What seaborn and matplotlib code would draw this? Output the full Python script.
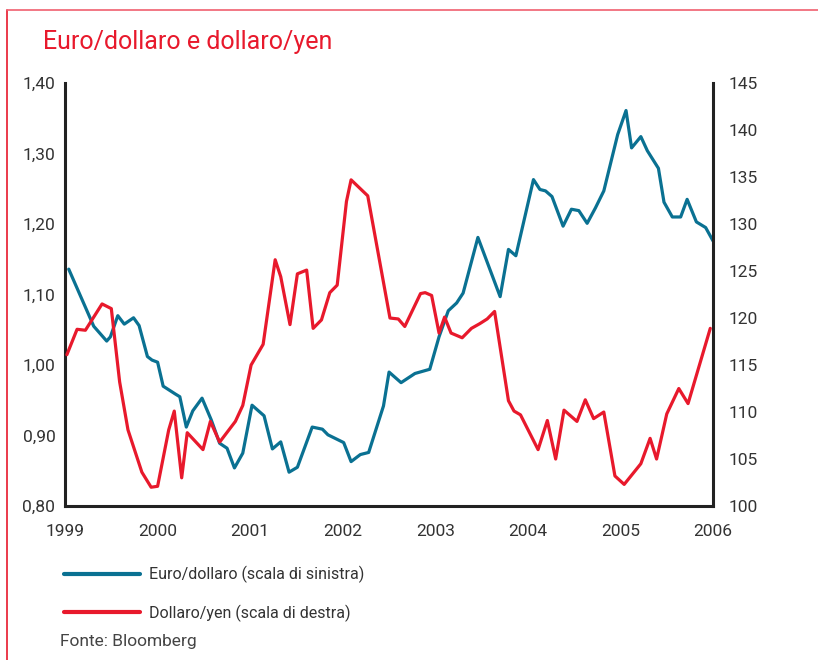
import pandas as pd
import seaborn as sns
import matplotlib.pyplot as plt
from matplotlib.lines import Line2D
from matplotlib.ticker import FuncFormatter

# euro/dollar (decimal year, value on left scale)
eur_year = [1999.04, 1999.31, 1999.45, 1999.49, 1999.57, 1999.64, 1999.74, 1999.80,
            1999.89, 1999.94, 2000.00, 2000.06, 2000.19, 2000.24, 2000.31, 2000.38,
            2000.48, 2000.58, 2000.67, 2000.75, 2000.83, 2000.92, 2001.02, 2001.15,
            2001.24, 2001.33, 2001.42, 2001.51, 2001.67, 2001.78, 2001.84, 2002.01,
            2002.09, 2002.19, 2002.28, 2002.44, 2002.50, 2002.63, 2002.78, 2002.94,
            2003.04, 2003.14, 2003.23, 2003.30, 2003.46, 2003.70, 2003.79, 2003.87,
            2004.06, 2004.13, 2004.19, 2004.26, 2004.38, 2004.47, 2004.55, 2004.64,
            2004.73, 2004.82, 2004.97, 2005.06, 2005.12, 2005.22, 2005.29, 2005.41,
            2005.47, 2005.56, 2005.65, 2005.72, 2005.82, 2005.92, 2006.00]
eur_usd = [1.136, 1.055, 1.034, 1.040, 1.070, 1.058, 1.067, 1.056,
           1.012, 1.007, 1.004, 0.970, 0.959, 0.955, 0.912, 0.935,
           0.953, 0.922, 0.889, 0.882, 0.854, 0.875, 0.943, 0.928,
           0.881, 0.891, 0.848, 0.855, 0.912, 0.909, 0.901, 0.890,
           0.863, 0.873, 0.876, 0.942, 0.990, 0.975, 0.988, 0.994,
           1.040, 1.077, 1.088, 1.102, 1.181, 1.097, 1.164, 1.155,
           1.263, 1.249, 1.247, 1.239, 1.197, 1.221, 1.219, 1.201,
           1.223, 1.247, 1.327, 1.361, 1.308, 1.324, 1.304, 1.279,
           1.231, 1.210, 1.210, 1.235, 1.203, 1.195, 1.176]

# dollar/yen (right scale)
jpy_year = [1999.02, 1999.13, 1999.22, 1999.40, 1999.50, 1999.59, 1999.68, 1999.83,
            1999.93, 2000.00, 2000.12, 2000.18, 2000.26, 2000.32, 2000.49, 2000.57,
            2000.67, 2000.84, 2000.92, 2001.01, 2001.14, 2001.27, 2001.33, 2001.43,
            2001.51, 2001.61, 2001.68, 2001.77, 2001.86, 2001.94, 2002.04, 2002.09,
            2002.27, 2002.51, 2002.60, 2002.67, 2002.84, 2002.89, 2002.96, 2003.04,
            2003.10, 2003.17, 2003.29, 2003.39, 2003.48, 2003.56, 2003.64, 2003.79,
            2003.85, 2003.92, 2004.11, 2004.21, 2004.30, 2004.39, 2004.53, 2004.62,
            2004.71, 2004.82, 2004.94, 2005.04, 2005.22, 2005.32, 2005.39, 2005.50,
            2005.63, 2005.73, 2005.97]
usd_jpy = [116.1, 118.8, 118.7, 121.5, 121.0, 113.2, 108.1, 103.6,
           102.0, 102.1, 108.1, 110.1, 103.0, 107.8, 106.0, 109.0,
           106.8, 109.0, 110.7, 115.0, 117.2, 126.2, 124.4, 119.3,
           124.7, 125.1, 118.9, 119.8, 122.7, 123.5, 132.4, 134.7,
           133.0, 120.0, 119.9, 119.1, 122.6, 122.7, 122.4, 118.4,
           120.1, 118.4, 117.9, 118.9, 119.4, 119.9, 120.7, 111.2,
           110.1, 109.7, 106.0, 109.1, 105.0, 110.2, 109.0, 111.3,
           109.3, 110.0, 103.2, 102.3, 104.5, 107.2, 105.0, 109.8,
           112.5, 110.9, 118.9]

years = [1999, 2000, 2001, 2002, 2003, 2004, 2005, 2006]
left_ticks = [0.80, 0.90, 1.00, 1.10, 1.20, 1.30, 1.40]
right_ticks = [100, 105, 110, 115, 120, 125, 130, 135, 140, 145]

labels = ["Euro/dollaro (scala di sinistra)", "Dollaro/yen (scala di destra)"]
blue = "#0a7192"
red = "#e8192c"
txt = "#333333"

sns.set_style("white")
plt.rcParams['font.family'] = ['Roboto', 'DejaVu Sans']

df_eur = pd.DataFrame({"anno": eur_year, "valore": eur_usd})
df_jpy = pd.DataFrame({"anno": jpy_year, "valore": usd_jpy})

fig = plt.figure(figsize=(8.18, 6.6), dpi=100)
ax = fig.add_axes([0.0795, 0.2333, 0.7922, 0.6409])
ax2 = ax.twinx()

sns.lineplot(data=df_eur, x="anno", y="valore", ax=ax, color=blue, lw=2.3)
sns.lineplot(data=df_jpy, x="anno", y="valore", ax=ax2, color=red, lw=2.3)

ax.set_xlim(1999, 2006)
ax.set_ylim(0.80, 1.40)
ax2.set_ylim(100, 145)
ax.set_xticks(years)
ax.set_yticks(left_ticks)
ax2.set_yticks(right_ticks)
ax.yaxis.set_major_formatter(FuncFormatter(lambda v, p: f"{v:.2f}".replace(".", ",")))
ax.set_xlabel("")
ax.set_ylabel("")
ax2.set_ylabel("")

for a in (ax, ax2):
    for s in a.spines.values():
        s.set_visible(False)
    a.grid(False)
ax.spines["left"].set_visible(True)
ax.spines["bottom"].set_visible(True)
ax2.spines["right"].set_visible(True)
for s in (ax.spines["left"], ax.spines["bottom"], ax2.spines["right"]):
    s.set_color("#222222")
    s.set_linewidth(2.2)

ax.tick_params(axis="y", length=0, pad=7, labelsize=12.5, labelcolor=txt)
ax.tick_params(axis="x", length=0, pad=13, labelsize=12.5, labelcolor=txt)
ax2.tick_params(axis="y", length=0, pad=11, labelsize=12.5, labelcolor=txt)

fig.text(0.052, 0.936, "Euro/dollaro e dollaro/yen", color=red, fontsize=18,
         va="center", ha="left")

handles = [Line2D([], [], color=blue, lw=3), Line2D([], [], color=red, lw=3)]
fig.legend(handles, labels, loc="upper left", bbox_to_anchor=(0.068, 0.155),
           frameon=False, fontsize=11.5, handlelength=4.8, handletextpad=0.55,
           labelspacing=1.35, borderpad=0, labelcolor=txt)

fig.text(0.073, 0.028, "Fonte: Bloomberg", color="#444444", fontsize=12.5,
         va="center", ha="left")

# red frame
fig.add_artist(Line2D([7 / 818, 7 / 818], [0, 1 - 10 / 660], color=red, lw=1.2,
                      transform=fig.transFigure))
fig.add_artist(Line2D([7 / 818, 1], [1 - 10 / 660, 1 - 10 / 660], color="#f06070", lw=1.2,
                      transform=fig.transFigure))

fig.savefig("out.png", dpi=100)
